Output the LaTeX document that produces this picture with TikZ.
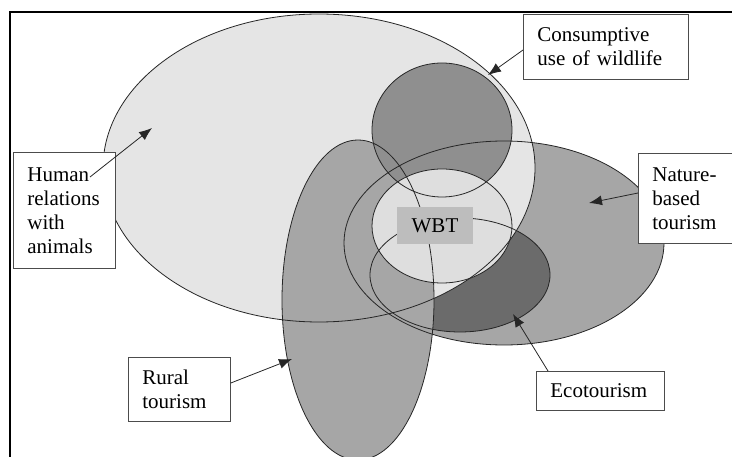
\documentclass[tikz,border=0pt]{standalone}
\usepackage{fontspec}
\setmainfont{Liberation Serif}
\usepackage{tikz}
\usetikzlibrary{arrows.meta}
\definecolor{bigfill}{gray}{0.90}
\definecolor{wbtfill}{gray}{0.87}
\definecolor{midfill}{gray}{0.65}
\definecolor{consfill}{gray}{0.56}
\definecolor{ecofill}{gray}{0.42}
\definecolor{wbtbox}{gray}{0.74}
\tikzset{
   venn/.style={draw=black!85, line width=0.8pt},
   labelbox/.style={draw=black!70, fill=white, line width=0.8pt,
      inner xsep=14pt, inner ysep=0pt, align=left, anchor=north west,
      font=\fontsize{21}{24}\selectfont},
   pointer/.style={draw=black!85, line width=0.8pt,
      -{Latex[length=13pt,width=10pt]}},
   }

\begin{document}
\begin{tikzpicture}[x=1pt,y=-1pt]
       \useasboundingbox (0,0) rectangle (732,457);
       \clip (0,0) rectangle (732,457);
       % fills, back to front
       \fill[midfill](504,243) ellipse [x radius=160, y radius=102];
       \fill[ecofill](460,275) ellipse [x radius=90, y radius=57];
       \fill[bigfill](319,168) ellipse [x radius=216, y radius=154];
       \fill[midfill](358,300) ellipse [x radius=76, y radius=160];
       \fill[consfill](442,130) ellipse [x radius=70, y radius=67];
       \fill[wbtfill](442,226) ellipse [x radius=70, y radius=57];
       % outlines
       \draw[venn](504,243) ellipse [x radius=160, y radius=102];
       \draw[venn](460,275) ellipse [x radius=90, y radius=57];
       \draw[venn](319,168) ellipse [x radius=216, y radius=154];
       \draw[venn](358,300) ellipse [x radius=76, y radius=160];
       \draw[venn](442,130) ellipse [x radius=70, y radius=67];
       \draw[venn](442,226) ellipse [x radius=70, y radius=57];
       % frame
       \draw[line width=1.8pt](10,457)--(10,12)--(732,12);
       \node[fill=wbtbox, minimum width=76pt, minimum height=37pt,
          font=\fontsize{21}{24}\selectfont] (wbt) at (435,226) {WBT};
       % labels
       \node[labelbox, text width=74pt, minimum height=116pt] (human) at (13,152)
          {Human\\relations\\with\\animals};
       \node[labelbox, text width=137pt, minimum height=65pt] (consumptive) at (523,14)
          {Consumptive\\use of wildlife};
       \node[labelbox, text width=70pt, minimum height=90pt] (nature) at (638,153)
          {Nature-\\based\\tourism};
       \node[labelbox, text width=74pt, minimum height=64pt] (rural) at (128,357)
          {Rural\\tourism};
       \node[labelbox, text width=100pt, minimum height=39pt] (eco) at (536,371)
          {Ecotourism};
       % pointers
       \coordinate (humanstart) at (90,177);
       \coordinate (humantip) at (152,128);
       \coordinate (constip) at (488,75);
       \coordinate (naturetip) at (589,203);
       \coordinate (ruraltip) at (292,359);
       \coordinate (ecostart) at (548,371);
       \coordinate (ecotip) at (513,314);
       \draw[pointer](humanstart)to(humantip);
       \draw[pointer](consumptive.west |- 0,50)to(constip);
       \draw[pointer](nature.west |- 0,193)to(naturetip);
       \draw[pointer](rural.east |- 0,383)to(ruraltip);
       \draw[pointer](ecostart)to(ecotip);
\end{tikzpicture}
\end{document}
